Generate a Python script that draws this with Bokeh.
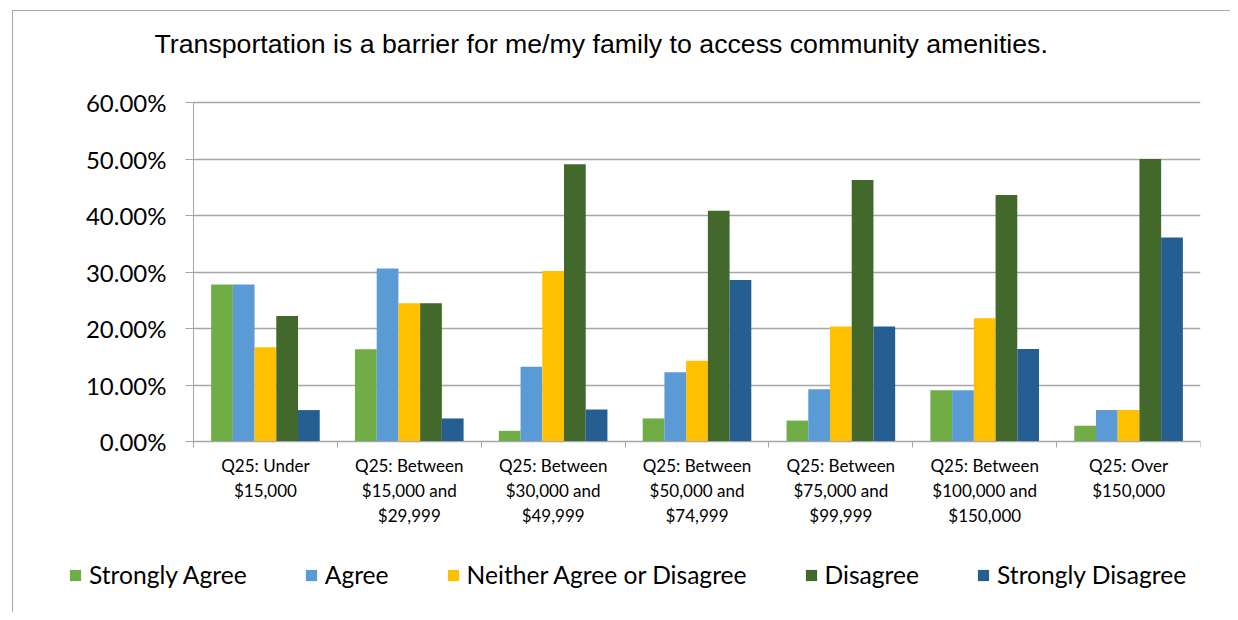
import numpy as np
from bokeh.plotting import figure
from bokeh.models import (ColumnDataSource, FixedTicker, PrintfTickFormatter, Legend,
                          LegendItem, Range1d, Label)
from bokeh.transform import dodge
from bokeh.embed import file_html
from bokeh.resources import INLINE

categories = [
    "Q25: Under\n$15,000",
    "Q25: Between\n$15,000 and\n$29,999",
    "Q25: Between\n$30,000 and\n$49,999",
    "Q25: Between\n$50,000 and\n$74,999",
    "Q25: Between\n$75,000 and\n$99,999",
    "Q25: Between\n$100,000 and\n$150,000",
    "Q25: Over\n$150,000",
]
series_names = ["Strongly Agree", "Agree", "Neither Agree or Disagree", "Disagree", "Strongly Disagree"]
strongly_agree = [27.78, 16.33, 1.89, 4.08, 3.70, 9.09, 2.78]
agree = [27.78, 30.61, 13.21, 12.24, 9.26, 9.09, 5.56]
neither = [16.67, 24.49, 30.19, 14.29, 20.37, 21.82, 5.56]
disagree = [22.22, 24.49, 49.06, 40.82, 46.30, 43.64, 50.00]
strongly_disagree = [5.56, 4.08, 5.66, 28.57, 20.37, 16.36, 36.11]
y_ticks = [0, 10, 20, 30, 40, 50, 60]
title_text = "Transportation is a barrier for me/my family to access community amenities."

colors = ["#70AD47", "#5B9BD5", "#FFC000", "#43682B", "#255E91"]
series = [strongly_agree, agree, neither, disagree, strongly_disagree]

n = len(categories)
centers = list(np.arange(n) + 0.5)
bounds = list(np.arange(n + 1).astype(float))

data = {"x": centers}
keys = ["sa", "a", "n", "d", "sd"]
for k, s in zip(keys, series):
    data[k] = s
src = ColumnDataSource(data)

# layout (pixels): frame spans nearly whole figure; axes are fixed at x=0 / y=0
W, H = 1218, 602
bl, br, bt, bb = 4, 31, 2, 4
axis_left_px = 176      # frame left -> value axis
axis_bottom_px = 168    # frame bottom -> category axis
top_pad_px = 89         # frame top -> top gridline
fw, fh = W - bl - br, H - bt - bb
xpx = (fw - axis_left_px) / n
ymax = y_ticks[-1]
ypx = (fh - axis_bottom_px - top_pad_px) / ymax
x_range = Range1d(-axis_left_px / xpx, n)
y_range = Range1d(-axis_bottom_px / ypx, ymax + top_pad_px / ypx)

p = figure(width=W, height=H, output_backend="svg", toolbar_location=None,
           x_range=x_range, y_range=y_range,
           min_border_left=bl, min_border_right=br, min_border_top=bt, min_border_bottom=bb)
p.margin = (10, 0, 0, 12)
p.styles = {"border-top": "1px solid #a6a6a6", "border-left": "1px solid #a6a6a6"}
p.outline_line_color = None
p.background_fill_color = "white"
p.border_fill_color = "white"

# horizontal gridlines limited to the plot area
grid_color = "#a6a6a6"
try:
    p.ygrid.cross_bounds = (0, n)
    p.ygrid.grid_line_color = grid_color
    p.ygrid.grid_line_width = 1.3
    p.ygrid.ticker = FixedTicker(ticks=y_ticks)
except Exception:
    p.ygrid.grid_line_color = None
    p.segment(x0=0, x1=n, y0=y_ticks, y1=y_ticks, line_color=grid_color, line_width=1.3)
p.xgrid.grid_line_color = None

bw = 0.151
renderers = []
for i, (k, c) in enumerate(zip(keys, colors)):
    r = p.vbar(x=dodge("x", (i - 2) * bw, range=p.x_range), top=k, width=bw, source=src,
               fill_color=c, line_color=None)
    renderers.append(r)

# title
p.add_layout(Label(x=137, y=fh - 30, x_units="screen", y_units="screen", text=title_text,
                   text_font="Liberation Sans", text_font_size="26.7px", text_color="black",
                   text_align="left", text_baseline="alphabetic"))

# y axis
p.yaxis.fixed_location = 0
p.yaxis.bounds = (0, ymax)
p.yaxis.ticker = FixedTicker(ticks=y_ticks)
p.yaxis.formatter = PrintfTickFormatter(format="%.2f%%")
p.yaxis.axis_line_color = grid_color
p.yaxis.major_tick_line_color = grid_color
p.yaxis.major_tick_out = 8
p.yaxis.major_tick_in = 0
p.yaxis.minor_tick_line_color = None
p.yaxis.major_label_text_font = "Lato"
p.yaxis.major_label_text_font_size = "24px"
p.yaxis.major_label_text_color = "black"
p.yaxis.major_label_standoff = 19

# x axis
p.xaxis.fixed_location = 0
p.xaxis.bounds = (0, n)
p.xaxis.ticker = FixedTicker(ticks=centers, minor_ticks=bounds)
p.xaxis.major_label_overrides = {c: lab for c, lab in zip(centers, categories)}
p.xaxis.axis_line_color = grid_color
p.xaxis.major_tick_line_color = None
p.xaxis.major_tick_out = 0
p.xaxis.minor_tick_line_color = grid_color
p.xaxis.minor_tick_out = 6
p.xaxis.minor_tick_in = 0
p.xaxis.major_label_text_font = "Lato"
p.xaxis.major_label_text_font_size = "17px"
p.xaxis.major_label_text_color = "black"
p.xaxis.major_label_standoff = 7

legend = Legend(items=[LegendItem(label=nm, renderers=[r]) for nm, r in zip(series_names, renderers)],
                orientation="horizontal", location=(51, 20),
                glyph_width=14, glyph_height=14, label_standoff=7, spacing=57,
                padding=0, margin=0, border_line_color=None, background_fill_alpha=0,
                label_text_font="Lato", label_text_font_size="24.6px", label_text_color="black",
                label_height=24)
p.add_layout(legend, "center")

open("out.html", "w").write(file_html(p, INLINE))
